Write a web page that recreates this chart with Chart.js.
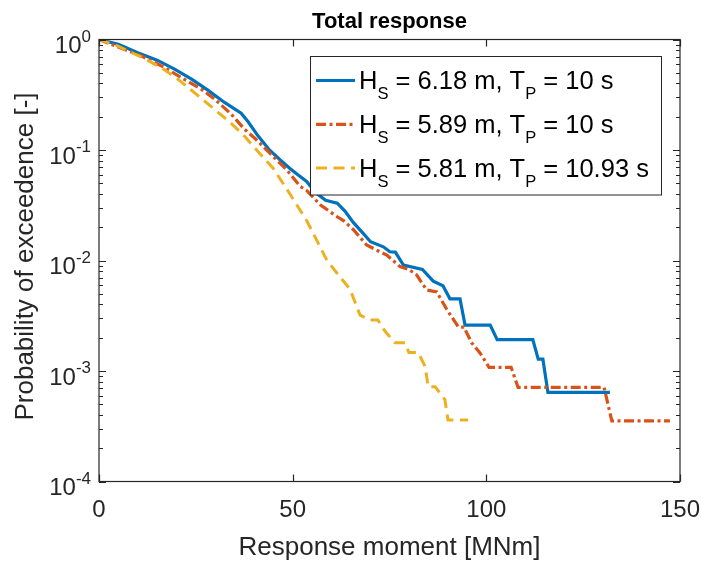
<!DOCTYPE html>
<html>
<head>
<meta charset="utf-8">
<script src="https://cdn.jsdelivr.net/npm/chart.js@4.4.1/dist/chart.umd.min.js"></script>
<style>
html, body { margin: 0; padding: 0; background: #fff; }
#wrap { width: 701px; height: 562px; }
</style>
</head>
<body>
<div id="wrap"><canvas id="chart" width="701" height="562"></canvas></div>
<script>
const titleText = 'Total response';
const xLabel = 'Response moment [MNm]';
const yLabel = 'Probability of exceedence [-]';
const xTicks = [0, 50, 100, 150];
const yTicks = [1e-4, 1e-3, 1e-2, 1e-1, 1];
const yTickLabels = ['10^{-4}', '10^{-3}', '10^{-2}', '10^{-1}', '10^{0}'];
const seriesLabels = ['H_S = 6.18 m, T_P = 10 s', 'H_S = 5.89 m, T_P = 10 s', 'H_S = 5.81 m, T_P = 10.93 s'];

// Hs = 6.18 m, Tp = 10 s
const mom618 = [0, 5, 10, 15, 19.5, 24, 28, 32.5, 36.7, 38.5, 41, 44, 47, 49.3, 51.5, 53.6, 56, 58.5, 61.5, 63.5, 65.7, 68.2, 70.1, 73.4, 75.1, 76.5, 78.6, 83.5, 86.3, 88.8, 90.6, 93.2, 94.5, 101, 102.8, 112, 113.4, 114.6, 115.9, 131.9];
const prob618 = [1, 0.905, 0.76, 0.65, 0.54, 0.435, 0.35, 0.268, 0.215, 0.18, 0.135, 0.1, 0.08, 0.068, 0.059, 0.052, 0.041, 0.035, 0.033, 0.028, 0.022, 0.0176, 0.0148, 0.0133, 0.012, 0.0119, 0.0091, 0.0083, 0.0065, 0.0059, 0.0045, 0.0045, 0.0026, 0.0026, 0.00192, 0.00192, 0.00128, 0.00128, 0.00064, 0.00064];

// Hs = 5.89 m, Tp = 10 s
const mom589 = [0, 6.6, 10.9, 17, 21.3, 26.4, 29.9, 34.2, 37.6, 40.5, 43.3, 48.5, 51.9, 53.6, 57.1, 61.4, 63.1, 65.7, 69.1, 71.7, 74.3, 77.7, 80, 82, 84.6, 87.2, 89.8, 92.8, 94.2, 96.2, 98.4, 100.7, 106.4, 108.2, 130.4, 132.4, 147.4];
const prob589 = [1, 0.81, 0.71, 0.556, 0.45, 0.355, 0.288, 0.21, 0.154, 0.125, 0.1, 0.066, 0.047, 0.043, 0.032, 0.025, 0.023, 0.019, 0.0138, 0.0124, 0.0112, 0.0088, 0.0083, 0.0074, 0.0054, 0.0052, 0.0036, 0.0025, 0.0025, 0.0018, 0.00145, 0.00108, 0.00108, 0.00071, 0.00071, 0.000353, 0.000353];

// Hs = 5.81 m, Tp = 10.93 s
const mom581 = [0, 4.9, 11.4, 16.1, 20.4, 25.1, 29.4, 33.7, 37.6, 40.7, 45, 49.3, 53.6, 56.2, 58.8, 62.2, 64.8, 67.4, 70, 72, 73.8, 76.4, 79, 80, 82.4, 84.2, 85, 86.8, 89.3, 90.1, 95.3];
const prob581 = [1, 0.87, 0.68, 0.556, 0.436, 0.32, 0.24, 0.18, 0.133, 0.1, 0.068, 0.04, 0.023, 0.0153, 0.0101, 0.0071, 0.0055, 0.0032, 0.0029, 0.0029, 0.0023, 0.0018, 0.0018, 0.00147, 0.00147, 0.0011, 0.00072, 0.00072, 0.00055, 0.00036, 0.00036];

const AX = '#262626';
const FONT = '"Liberation Sans", Arial, Helvetica, sans-serif';

function pts(xs, ys) { return xs.map((x, i) => ({ x, y: ys[i] })); }

// split 'H_S' / '10^{-1}' into normal, sub and sup runs
function parseRich(s) {
  const out = [];
  const re = /([_^])\{([^}]*)\}|([_^])(.)|([^_^]+)/g;
  let m;
  while ((m = re.exec(s))) {
    if (m[1]) out.push({ t: m[2], k: m[1] });
    else if (m[3]) out.push({ t: m[4], k: m[3] });
    else out.push({ t: m[5], k: '' });
  }
  return out;
}
function drawRich(ctx, s, x, y, size, align, scriptSize, up, down) {
  const runs = parseRich(s);
  let w = 0;
  for (const r of runs) {
    ctx.font = `${r.k ? scriptSize : size}px ${FONT}`;
    r.w = ctx.measureText(r.t).width;
    w += r.w;
  }
  let cx = align === 'right' ? x - w : align === 'center' ? x - w / 2 : x;
  ctx.textAlign = 'left';
  ctx.textBaseline = 'alphabetic';
  for (const r of runs) {
    ctx.font = `${r.k ? scriptSize : size}px ${FONT}`;
    const dy = r.k === '^' ? -up : r.k === '_' ? down : 0;
    ctx.fillText(r.t, cx, y + dy);
    cx += r.w;
  }
}

const datasets = [
  { label: seriesLabels[0], data: pts(mom618, prob618), borderColor: '#0072BD', borderWidth: 3.2, borderDash: [], order: 2 },
  { label: seriesLabels[1], data: pts(mom589, prob589), borderColor: '#D95319', borderWidth: 3.2, borderDash: [10, 3.5, 3, 3.5], order: 1 },
  { label: seriesLabels[2], data: pts(mom581, prob581), borderColor: '#EDB120', borderWidth: 3, borderDash: [11, 6.5], order: 0 },
];
datasets.forEach(d => Object.assign(d, { pointRadius: 0, tension: 0, fill: false, borderCapStyle: 'butt', borderJoinStyle: 'miter' }));

const matlabAxes = {
  id: 'matlabAxes',
  afterDraw(chart) {
    const { ctx, chartArea: a, scales: { x, y } } = chart;
    ctx.save();
    ctx.strokeStyle = AX;
    ctx.fillStyle = AX;
    ctx.lineWidth = 1.2;
    ctx.strokeRect(a.left, a.top, a.right - a.left, a.bottom - a.top);
    ctx.beginPath();
    // x ticks, inside, top and bottom
    for (const v of xTicks) {
      const px = Math.round(x.getPixelForValue(v)) + 0.5;
      ctx.moveTo(px, a.bottom); ctx.lineTo(px, a.bottom - 7);
      ctx.moveTo(px, a.top); ctx.lineTo(px, a.top + 7);
    }
    // y major + minor ticks, inside, left and right
    for (let e = -4; e <= 0; e++) {
      for (let m = 1; m <= 9; m++) {
        const v = m * Math.pow(10, e);
        if (v > 1) break;
        const py = Math.round(y.getPixelForValue(v)) + 0.5;
        const len = m === 1 ? 7 : 4;
        ctx.moveTo(a.left, py); ctx.lineTo(a.left + len, py);
        ctx.moveTo(a.right, py); ctx.lineTo(a.right - len, py);
      }
    }
    ctx.stroke();

    // tick labels
    ctx.font = `24px ${FONT}`;
    ctx.textAlign = 'center';
    ctx.textBaseline = 'alphabetic';
    for (const v of xTicks) ctx.fillText(String(v), x.getPixelForValue(v), a.bottom + 35);
    yTicks.forEach((v, i) => {
      drawRich(ctx, yTickLabels[i], a.left - 8, y.getPixelForValue(v) + 13.5, 24, 'right', 17, 11.5, 0);
    });

    // axis titles and chart title
    ctx.font = `26px ${FONT}`;
    ctx.textAlign = 'center';
    ctx.fillText(xLabel, (a.left + a.right) / 2, a.bottom + 73);
    ctx.save();
    ctx.translate(33, (a.top + a.bottom) / 2 - 4);
    ctx.rotate(-Math.PI / 2);
    ctx.fillText(yLabel, 0, 0);
    ctx.restore();
    ctx.fillStyle = '#000';
    ctx.font = `bold 22px ${FONT}`;
    ctx.fillText(titleText, (a.left + a.right) / 2, a.top - 12);

    // legend
    const lx = 310.5, ly = 56.5, lw = 351, lh = 138.5;
    ctx.fillStyle = '#fff';
    ctx.fillRect(lx, ly, lw, lh);
    ctx.strokeStyle = AX;
    ctx.lineWidth = 1;
    ctx.strokeRect(lx, ly, lw, lh);
    chart.data.datasets.forEach((d, i) => {
      const rowY = 80.5 + i * 43.8;
      ctx.save();
      ctx.strokeStyle = d.borderColor;
      ctx.lineWidth = d.borderWidth;
      ctx.setLineDash(d.borderDash);
      ctx.beginPath();
      ctx.moveTo(316, rowY); ctx.lineTo(355, rowY);
      ctx.stroke();
      ctx.restore();
      ctx.fillStyle = '#000';
      drawRich(ctx, d.label, 359, rowY + 8.5, 25.5, 'left', 16.5, 0, 10);
    });
    ctx.restore();
  }
};

new Chart(document.getElementById('chart').getContext('2d'), {
  type: 'line',
  data: { datasets },
  options: {
    responsive: false,
    animation: false,
    devicePixelRatio: 1,
    layout: { padding: { left: 99, right: 21, top: 39.5, bottom: 80.5 } },
    plugins: { legend: { display: false }, tooltip: { enabled: false }, title: { display: false } },
    scales: {
      x: {
        type: 'linear', min: 0, max: 150,
        ticks: { display: false }, grid: { display: false }, border: { display: false },
        afterFit: s => { s.height = 0; },
      },
      y: {
        type: 'logarithmic', min: 1e-4, max: 1,
        ticks: { display: false }, grid: { display: false }, border: { display: false },
        afterFit: s => { s.width = 0; },
      },
    },
  },
  plugins: [matlabAxes],
});
</script>
</body>
</html>
